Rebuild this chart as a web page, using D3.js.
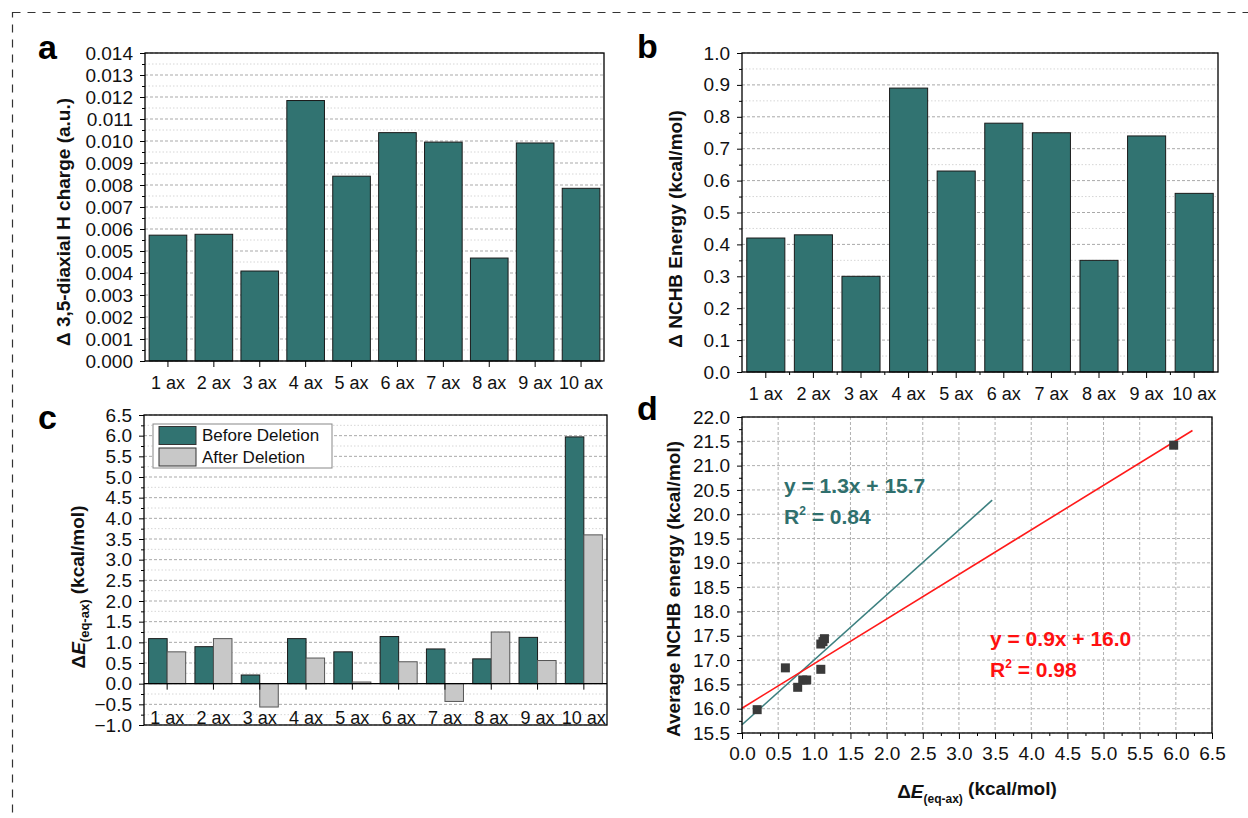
<!DOCTYPE html>
<html>
<head>
<meta charset="utf-8">
<script src="https://cdn.jsdelivr.net/npm/d3@7"></script>
<style>
  body { margin: 0; background: #fff; }
  svg { display: block; }
</style>
</head>
<body>
<svg id="fig" width="1248" height="818"></svg>
<script>
// ---- data ----
const categories = ["1 ax", "2 ax", "3 ax", "4 ax", "5 ax", "6 ax", "7 ax", "8 ax", "9 ax", "10 ax"];

// panel a: change of 3,5-diaxial H charge
const chargeDelta = [0.00572, 0.00576, 0.00409, 0.01184, 0.00840, 0.01038, 0.00995, 0.00468, 0.00991, 0.00785];
// panel b: change of NCHB energy
const nchbDelta = [0.42, 0.43, 0.30, 0.89, 0.63, 0.78, 0.75, 0.35, 0.74, 0.56];
// panel c: dE(eq-ax) before / after deletion
const energyBefore = [1.09, 0.895, 0.21, 1.09, 0.77, 1.14, 0.84, 0.60, 1.12, 5.97];
const energyAfter = [0.77, 1.09, -0.565, 0.62, 0.04, 0.53, -0.43, 1.25, 0.56, 3.60];
const seriesNames = ["Before Deletion", "After Deletion"];
// panel d: scatter of dE(eq-ax) vs average NCHB energy
const scatterX = [0.21, 0.60, 0.77, 0.84, 0.895, 1.09, 1.09, 1.12, 1.14, 5.97];
const scatterY = [15.98, 16.84, 16.44, 16.59, 16.59, 16.81, 17.33, 17.38, 17.44, 21.42];
// fitted lines drawn in panel d
const fitTeal = { slope: 1.335, intercept: 15.67, xFrom: 0.0, xTo: 3.46 };
const fitRed = { slope: 0.917, intercept: 16.01, xFrom: 0.0, xTo: 6.23 };

const FONT = "Arial, 'Liberation Sans', sans-serif";
const TEAL = "#317371";
const GREY = "#c8c8c8";
const RED = "#ff1a1a";
const TICK_FONT = 19;

const svg = d3.select("#fig").attr("font-family", FONT);

// dashed outline of the whole figure (only top and left are visible)
svg.append("rect")
    .attr("x", 12.5).attr("y", 12.5)
    .attr("width", 1300).attr("height", 900)
    .attr("fill", "none")
    .attr("stroke", "#333")
    .attr("stroke-width", 1.2)
    .attr("stroke-dasharray", "8,7");

// horizontal grid + left axis with major and minor ticks
function leftAxis(g, y, box, majors, minors, fmt, grid) {
    if (grid) {
        g.append("g").selectAll("line").data(minors).join("line")
            .attr("x1", box.left).attr("x2", box.right)
            .attr("y1", d => y(d)).attr("y2", d => y(d))
            .attr("stroke", "#d6d6d6").attr("stroke-dasharray", "1.5,2");
        g.append("g").selectAll("line").data(majors).join("line")
            .attr("x1", box.left).attr("x2", box.right)
            .attr("y1", d => y(d)).attr("y2", d => y(d))
            .attr("stroke", "#a9a9a9").attr("stroke-dasharray", "3,2");
    }
    const ax = g.append("g")
        .attr("transform", `translate(${box.left},0)`)
        .call(d3.axisLeft(y).tickValues(majors).tickSize(5).tickPadding(7).tickFormat(fmt));
    ax.attr("font-family", FONT).attr("font-size", TICK_FONT);
    ax.select(".domain").remove();
    ax.selectAll("text").attr("fill", "#111");
    const mi = g.append("g")
        .attr("transform", `translate(${box.left},0)`)
        .call(d3.axisLeft(y).tickValues(minors).tickSize(3).tickFormat(""));
    mi.select(".domain").remove();
}

function frame(g, box) {
    g.append("rect")
        .attr("x", box.left).attr("y", box.top)
        .attr("width", box.right - box.left).attr("height", box.bottom - box.top)
        .attr("fill", "none").attr("stroke", "#000").attr("stroke-width", 1.3);
}

function yTitle(g, cx, cy, parts) {
    const t = g.append("text")
        .attr("transform", `translate(${cx},${cy}) rotate(-90)`)
        .attr("text-anchor", "middle")
        .attr("dy", "0.35em")
        .attr("font-weight", "bold")
        .attr("font-size", 19)
        .attr("fill", "#111");
    parts.forEach(p => {
        const s = t.append("tspan").text(p.text);
        if (p.italic) s.attr("font-style", "italic");
        if (p.size) s.attr("font-size", p.size);
        if (p.dy) s.attr("dy", p.dy);
    });
    return t;
}

function panelLetter(x, y, letter) {
    svg.append("text").attr("x", x).attr("y", y)
        .attr("font-size", 34).attr("font-weight", "bold").attr("fill", "#000")
        .text(letter);
}

// ---- panel a ----
(function () {
    const box = { left: 145, right: 604, top: 53, bottom: 361 };
    const g = svg.append("g");
    const x = d3.scaleBand().domain(categories).range([box.left, box.right]).paddingInner(0.18).paddingOuter(0.09);
    const y = d3.scaleLinear().domain([0, 0.014]).range([box.bottom, box.top]);
    const majors = d3.range(0, 15).map(i => i * 0.001);
    const minors = d3.range(0, 14).map(i => i * 0.001 + 0.0005);
    leftAxis(g, y, box, majors, minors, d3.format(".3f"), true);

    g.selectAll("rect.bar").data(chargeDelta).join("rect")
        .attr("class", "bar")
        .attr("x", (d, i) => x(categories[i]))
        .attr("width", x.bandwidth())
        .attr("y", d => y(d))
        .attr("height", d => y(0) - y(d))
        .attr("fill", TEAL).attr("stroke", "#1a1a1a").attr("stroke-width", 1);

    const xa = g.append("g").attr("transform", `translate(0,${box.bottom})`)
        .call(d3.axisBottom(x).tickSize(6).tickPadding(9));
    xa.attr("font-family", FONT).attr("font-size", 18);
    xa.select(".domain").remove();
    xa.selectAll("text").attr("fill", "#111");

    frame(g, box);
    yTitle(g, 63, 222, [{ text: "\u0394 3,5-diaxial H charge (a.u.)" }]);
    panelLetter(38, 59, "a");
})();

// ---- panel b ----
(function () {
    const box = { left: 742, right: 1218, top: 53, bottom: 372 };
    const g = svg.append("g");
    const x = d3.scaleBand().domain(categories).range([box.left, box.right]).paddingInner(0.2).paddingOuter(0.1);
    const y = d3.scaleLinear().domain([0, 1.0]).range([box.bottom, box.top]);
    const majors = d3.range(0, 11).map(i => i * 0.1);
    const minors = d3.range(0, 10).map(i => i * 0.1 + 0.05);
    leftAxis(g, y, box, majors, minors, d3.format(".1f"), true);

    g.selectAll("rect.bar").data(nchbDelta).join("rect")
        .attr("class", "bar")
        .attr("x", (d, i) => x(categories[i]))
        .attr("width", x.bandwidth())
        .attr("y", d => y(d))
        .attr("height", d => y(0) - y(d))
        .attr("fill", TEAL).attr("stroke", "#1a1a1a").attr("stroke-width", 1);

    const xa = g.append("g").attr("transform", `translate(0,${box.bottom})`)
        .call(d3.axisBottom(x).tickSize(6).tickPadding(9));
    xa.attr("font-family", FONT).attr("font-size", 18);
    xa.select(".domain").remove();
    xa.selectAll("text").attr("fill", "#111");
    // small ticks on the band boundaries
    const step = x.step();
    g.append("g").selectAll("line").data(d3.range(1, categories.length)).join("line")
        .attr("x1", i => box.left + i * step).attr("x2", i => box.left + i * step)
        .attr("y1", box.bottom).attr("y2", box.bottom + 3)
        .attr("stroke", "#000");

    frame(g, box);
    yTitle(g, 675, 229, [{ text: "\u0394 NCHB Energy (kcal/mol)" }]);
    panelLetter(637, 58, "b");
})();

// ---- panel c ----
(function () {
    const box = { left: 144, right: 607, top: 415, bottom: 725 };
    const g = svg.append("g");
    const x = d3.scaleBand().domain(categories).range([box.left, box.right]).paddingInner(0.2).paddingOuter(0.1);
    const xs = d3.scaleBand().domain(seriesNames).range([0, x.bandwidth()]);
    const y = d3.scaleLinear().domain([-1.0, 6.5]).range([box.bottom, box.top]);
    const majors = d3.range(0, 16).map(i => -1 + i * 0.5);
    const minors = d3.range(0, 15).map(i => -0.75 + i * 0.5);
    leftAxis(g, y, box, majors, minors, d3.format(".1f"), true);

    const series = [energyBefore, energyAfter];
    const fills = [TEAL, GREY];
    const strokes = ["#1a1a1a", "#555"];
    series.forEach((vals, s) => {
        g.append("g").selectAll("rect").data(vals).join("rect")
            .attr("x", (d, i) => x(categories[i]) + xs(seriesNames[s]))
            .attr("width", xs.bandwidth())
            .attr("y", d => y(Math.max(0, d)))
            .attr("height", d => Math.abs(y(d) - y(0)))
            .attr("fill", fills[s]).attr("stroke", strokes[s]).attr("stroke-width", 1);
    });

    // zero line with category ticks
    g.append("line")
        .attr("x1", box.left).attr("x2", box.right)
        .attr("y1", y(0)).attr("y2", y(0))
        .attr("stroke", "#000").attr("stroke-width", 1.2);
    const xa = g.append("g").attr("transform", `translate(0,${y(0)})`)
        .call(d3.axisBottom(x).tickSize(6).tickFormat(""));
    xa.select(".domain").remove();
    g.append("g").selectAll("text").data(categories).join("text")
        .attr("x", d => x(d) + x.bandwidth() / 2)
        .attr("y", 724)
        .attr("text-anchor", "middle")
        .attr("font-size", 18).attr("fill", "#111")
        .text(d => d);

    // legend
    const lg = g.append("g");
    lg.append("rect").attr("x", 153).attr("y", 424).attr("width", 179).attr("height", 44)
        .attr("fill", "#fff").attr("stroke", "#888").attr("stroke-width", 1);
    seriesNames.forEach((name, s) => {
        lg.append("rect").attr("x", 159).attr("y", 426.5 + s * 21.5).attr("width", 37).attr("height", 18)
            .attr("fill", fills[s]).attr("stroke", "#333").attr("stroke-width", 1);
        lg.append("text").attr("x", 202).attr("y", 441 + s * 22)
            .attr("font-size", 17).attr("fill", "#111").text(name);
    });

    frame(g, box);
    yTitle(g, 78, 587, [
        { text: "\u0394" },
        { text: "E", italic: true },
        { text: "(eq-ax)", size: 13, dy: "0.35em" },
        { text: " (kcal/mol)", dy: "-0.3em" }
    ]);
    panelLetter(38, 429, "c");
})();

// ---- panel d ----
(function () {
    const box = { left: 742, right: 1212, top: 417, bottom: 733 };
    const g = svg.append("g");
    const x = d3.scaleLinear().domain([0, 6.5]).range([box.left, box.right]);
    const y = d3.scaleLinear().domain([15.5, 22.0]).range([box.bottom, box.top]);
    const yMajors = d3.range(0, 14).map(i => 15.5 + i * 0.5);
    const yMinors = d3.range(0, 13).map(i => 15.75 + i * 0.5);
    const xMajors = d3.range(0, 14).map(i => i * 0.5);
    const xMinors = d3.range(0, 13).map(i => 0.25 + i * 0.5);

    // dashed grid on major ticks
    g.append("g").selectAll("line").data(yMajors).join("line")
        .attr("x1", box.left).attr("x2", box.right)
        .attr("y1", d => y(d)).attr("y2", d => y(d))
        .attr("stroke", "#b0b0b0").attr("stroke-dasharray", "3,2");
    g.append("g").selectAll("line").data(xMajors).join("line")
        .attr("y1", box.top).attr("y2", box.bottom)
        .attr("x1", d => x(d)).attr("x2", d => x(d))
        .attr("stroke", "#b0b0b0").attr("stroke-dasharray", "3,2");
    leftAxis(g, y, box, yMajors, yMinors, d3.format(".1f"), false);

    const xa = g.append("g").attr("transform", `translate(0,${box.bottom})`)
        .call(d3.axisBottom(x).tickValues(xMajors).tickSize(6).tickPadding(8).tickFormat(d3.format(".1f")));
    xa.attr("font-family", FONT).attr("font-size", TICK_FONT);
    xa.select(".domain").remove();
    xa.selectAll("text").attr("fill", "#111");
    const xm = g.append("g").attr("transform", `translate(0,${box.bottom})`)
        .call(d3.axisBottom(x).tickValues(xMinors).tickSize(3).tickFormat(""));
    xm.select(".domain").remove();

    // fitted lines
    [[fitTeal, "#3d8080"], [fitRed, RED]].forEach(([f, col]) => {
        g.append("line")
            .attr("x1", x(f.xFrom)).attr("y1", y(f.slope * f.xFrom + f.intercept))
            .attr("x2", x(f.xTo)).attr("y2", y(f.slope * f.xTo + f.intercept))
            .attr("stroke", col).attr("stroke-width", 1.6);
    });

    // data points
    g.append("g").selectAll("rect").data(scatterX).join("rect")
        .attr("x", (d, i) => x(d) - 4.5)
        .attr("y", (d, i) => y(scatterY[i]) - 4.5)
        .attr("width", 9).attr("height", 9)
        .attr("fill", "#3a3a3a");

    // equations
    const eq = (tx, ty, color, line1, r2) => {
        g.append("text").attr("x", tx).attr("y", ty)
            .attr("font-size", 21).attr("font-weight", "bold").attr("fill", color)
            .text(line1);
        const t = g.append("text").attr("x", tx).attr("y", ty + 31)
            .attr("font-size", 21).attr("font-weight", "bold").attr("fill", color);
        t.append("tspan").text("R");
        t.append("tspan").text("2").attr("font-size", 12).attr("dy", "-0.75em");
        t.append("tspan").text(" = " + r2).attr("dy", "0.43em");
    };
    eq(784, 493, "#2f6f6d", "y = 1.3x + 15.7", "0.84");
    eq(990, 646, "#ff1010", "y = 0.9x + 16.0", "0.98");

    frame(g, box);
    yTitle(g, 673, 589, [{ text: "Average NCHB energy (kcal/mol)" }]);

    const xt = g.append("text")
        .attr("x", 977).attr("y", 798)
        .attr("text-anchor", "middle")
        .attr("font-weight", "bold").attr("font-size", 19).attr("fill", "#111");
    xt.append("tspan").text("\u0394");
    xt.append("tspan").text("E").attr("font-style", "italic");
    xt.append("tspan").text("(eq-ax)").attr("font-size", 12).attr("dy", "0.4em");
    xt.append("tspan").text(" (kcal/mol)").attr("dy", "-0.4em");

    panelLetter(637, 420, "d");
})();
</script>
</body>
</html>
